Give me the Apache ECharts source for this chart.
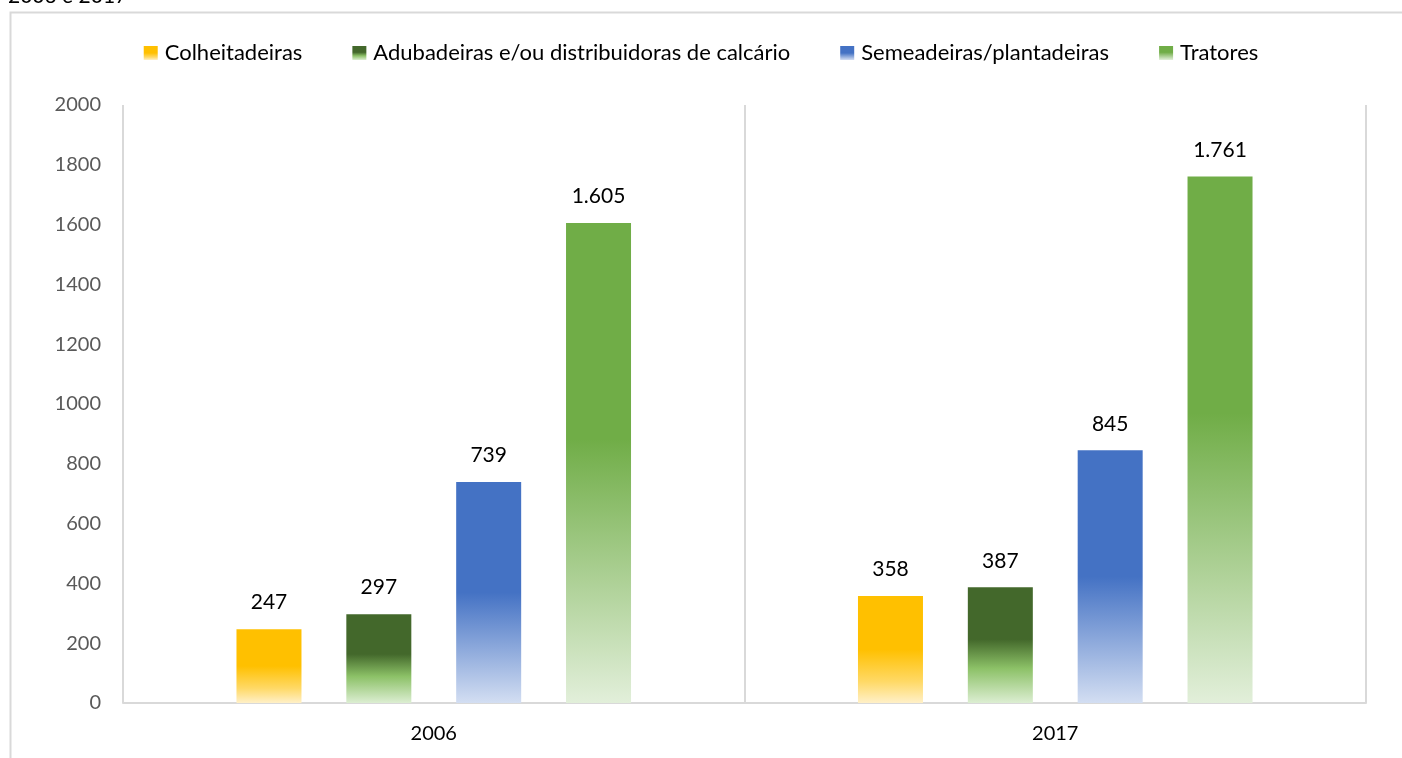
<!DOCTYPE html>
<html>
<head>
<meta charset="utf-8">
<script src="https://cdn.jsdelivr.net/npm/echarts@6/dist/echarts.min.js"></script>
<style>
html,body{margin:0;padding:0;background:#fff;}
#c{width:1402px;height:758px;}
</style>
</head>
<body>
<div id="c"></div>
<script>
const categories = ['2006', '2017'];
const seriesNames = ['Colheitadeiras', 'Adubadeiras e/ou distribuidoras de calcário', 'Semeadeiras/plantadeiras', 'Tratores'];
const colheitadeiras = [247, 358];
const adubadeiras = [297, 387];
const semeadeiras = [739, 845];
const tratores = [1605, 1761];
const yTicks = { min: 0, max: 2000, interval: 200 };

const FONT = 'Lato, "Liberation Sans", sans-serif';

function grad(stops) {
  return new echarts.graphic.LinearGradient(0, 0, 0, 1, stops.map(s => ({ offset: s[0], color: s[1] })));
}
const fills = [
  grad([[0, '#FFC000'], [0.5, '#FFC000'], [0.8, '#FFD966'], [1, '#FFF0C8']]),
  grad([[0, '#43682B'], [0.45, '#43682B'], [0.7, '#8CC167'], [1, '#DCEED2']]),
  grad([[0, '#4472C4'], [0.5, '#4472C4'], [1, '#D3DEF2']]),
  grad([[0, '#70AD47'], [0.45, '#70AD47'], [1, '#E2EFDA']])
];
const dataSets = [colheitadeiras, adubadeiras, semeadeiras, tratores];

function fmt(v) {
  return String(v).replace(/\B(?=(\d{3})+(?!\d))/g, '.');
}

const chart = echarts.init(document.getElementById('c'), null, { renderer: 'canvas' });
chart.setOption({
  backgroundColor: '#fff',
  animation: false,
  textStyle: { fontFamily: FONT },
  graphic: [
    { type: 'rect', shape: { x: 10.5, y: 12.5, width: 1440, height: 780 }, style: { fill: 'none', stroke: '#D9D9D9', lineWidth: 2 }, silent: true },
    { type: 'text', left: 8, top: -14, style: { text: '2006 e 2017', fontSize: 21, fontFamily: FONT, fill: '#000' } }
  ],
  legend: {
    top: 37,
    left: 'center',
    itemWidth: 14,
    itemHeight: 14,
    itemGap: 50,
    icon: 'rect',
    textStyle: { fontSize: 22, color: '#000', fontFamily: FONT, padding: [0, 0, 0, 2] },
    data: seriesNames
  },
  grid: { left: 123, right: 36, top: 105, bottom: 55, containLabel: false },
  xAxis: {
    type: 'category',
    data: categories,
    axisLine: { show: true, lineStyle: { color: '#D9D9D9', width: 2 } },
    axisTick: { show: false },
    splitLine: { show: true, lineStyle: { color: '#D9D9D9', width: 2 } },
    axisLabel: { fontSize: 20, color: '#000', margin: 21, fontFamily: FONT }
  },
  yAxis: {
    type: 'value',
    min: yTicks.min, max: yTicks.max, interval: yTicks.interval,
    axisLine: { show: false },
    axisTick: { show: false },
    splitLine: { show: false },
    axisLabel: { fontSize: 20, color: '#595959', margin: 22, fontFamily: FONT, formatter: v => String(v) }
  },
  series: seriesNames.map((name, i) => ({
    name: name,
    type: 'bar',
    data: dataSets[i],
    barWidth: 65,
    barGap: '69%',
    itemStyle: { color: fills[i] },
    label: {
      show: true, position: 'top', distance: 16,
      fontSize: 21, color: '#000', fontFamily: FONT,
      formatter: p => fmt(p.value)
    }
  }))
});
</script>
</body>
</html>
